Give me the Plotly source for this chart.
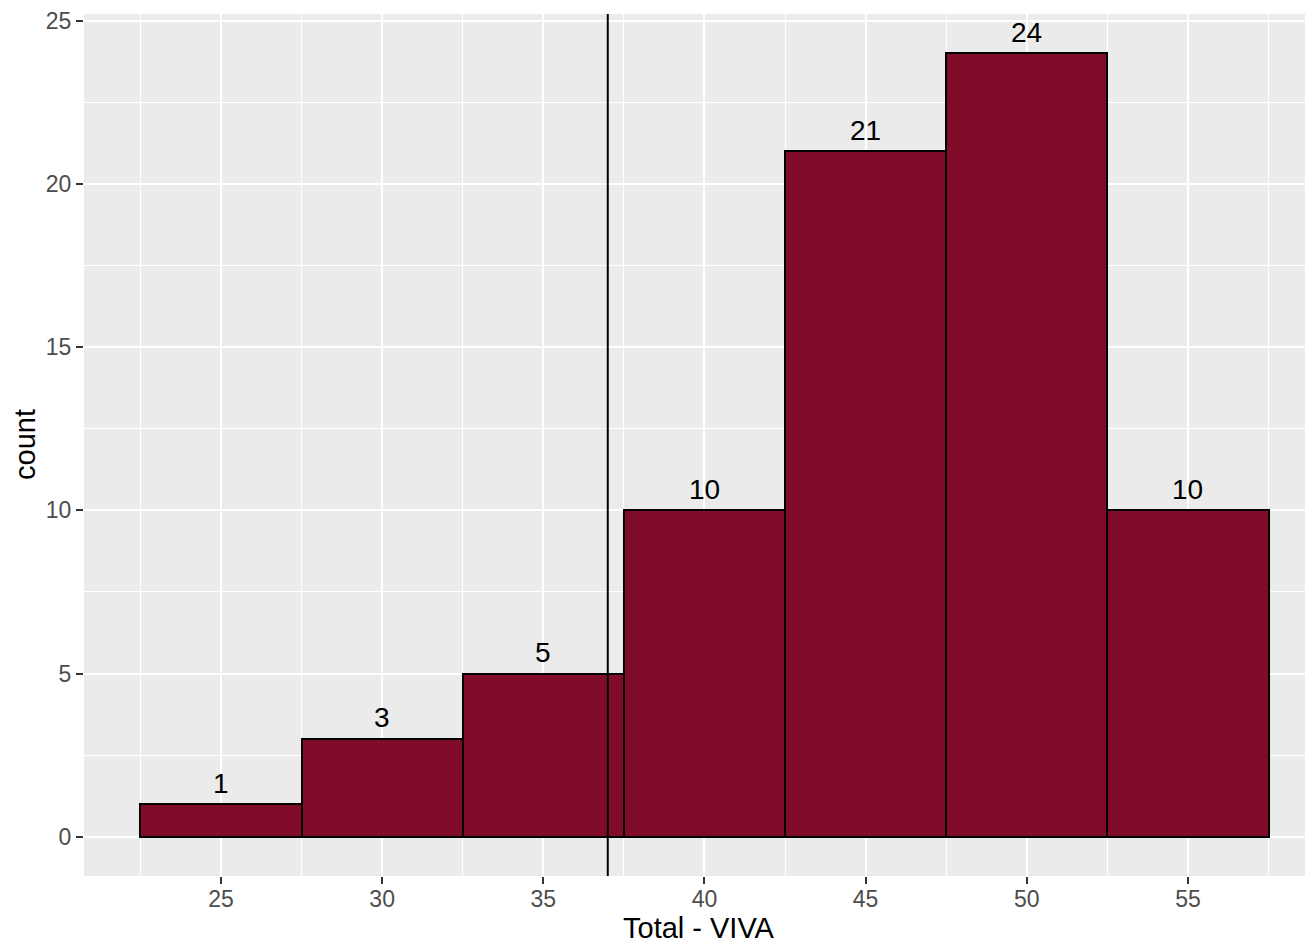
import plotly.graph_objects as go

bin_centers = [25, 30, 35, 40, 45, 50, 55]
counts = [1, 3, 5, 10, 21, 24, 10]
bin_width = 5
cutoff = 37
x_title = "Total - VIVA"
y_title = "count"

FONT = "Liberation Sans, Arial"

fig = go.Figure()
fig.add_trace(go.Bar(
    x=bin_centers, y=counts, width=[bin_width] * len(bin_centers),
    marker=dict(color="#800C2A", line=dict(color="black", width=2)),
    showlegend=False, hoverinfo="skip",
))

for xc, c in zip(bin_centers, counts):
    fig.add_annotation(x=xc, y=c, text=str(c), showarrow=False,
                       yanchor="middle", yshift=21,
                       font=dict(family=FONT, size=28, color="black"))

fig.add_shape(type="line", x0=cutoff, x1=cutoff, y0=0, y1=1, xref="x", yref="paper",
              line=dict(color="black", width=2), layer="above")

# axis titles placed as paper annotations for exact placement
fig.add_annotation(x=0.5, y=0, xref="paper", yref="paper", text=x_title, showarrow=False,
                   xanchor="center", yanchor="middle", yshift=-52, borderpad=0,
                   font=dict(family=FONT, size=29, color="black"))
fig.add_annotation(x=0, y=0.5, xref="paper", yref="paper", text=y_title, showarrow=False,
                   xanchor="center", yanchor="middle", xshift=-59, textangle=-90, borderpad=0,
                   font=dict(family=FONT, size=29, color="black"))

# page body has an 8px margin; compensate so the plot area sits at 84..1313 x 14..876
fig.update_layout(
    width=1305, height=936,
    margin=dict(l=76, r=0, t=6, b=68),
    paper_bgcolor="white", plot_bgcolor="#EBEBEB",
    font=dict(family=FONT, color="#4D4D4D"),
    bargap=0,
)
fig.update_xaxes(
    range=[20.75, 58.88], tick0=0, dtick=5, showgrid=True, gridcolor="white", gridwidth=2,
    minor=dict(dtick=2.5, showgrid=True, gridcolor="white", gridwidth=1),
    ticks="outside", ticklen=7, tickwidth=2, tickcolor="#333333",
    tickfont=dict(family=FONT, size=23, color="#4D4D4D"), zeroline=False, showline=False,
    ticklabeloverflow="allow", ticklabelstandoff=-5,
)
fig.update_yaxes(
    range=[-1.2, 25.2], tick0=0, dtick=5, showgrid=True, gridcolor="white", gridwidth=2,
    minor=dict(dtick=2.5, showgrid=True, gridcolor="white", gridwidth=1),
    ticks="outside", ticklen=7, tickwidth=2, tickcolor="#333333",
    tickfont=dict(family=FONT, size=23, color="#4D4D4D"), zeroline=False, showline=False,
    ticklabeloverflow="allow",
)

fig.write_html("out.html")
